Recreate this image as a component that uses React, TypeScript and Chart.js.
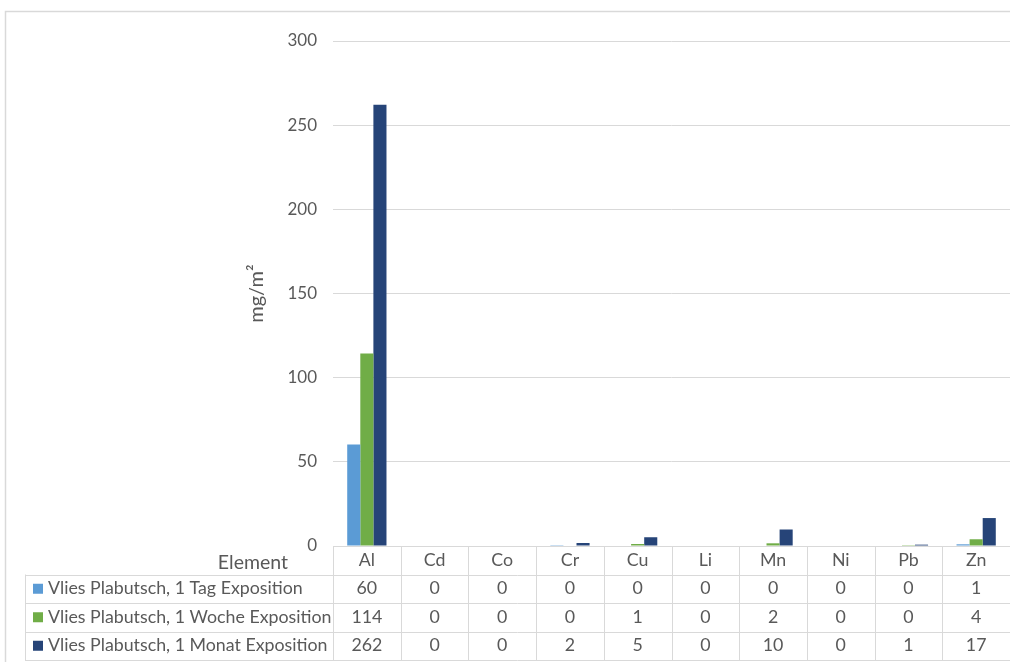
import React, { useEffect, useRef } from "react";
import { Chart, registerables } from "chart.js";

Chart.register(...registerables);

const categories = ["Al", "Cd", "Co", "Cr", "Cu", "Li", "Mn", "Ni", "Pb", "Zn"];
const seriesNames = [
  "Vlies Plabutsch, 1 Tag Exposition",
  "Vlies Plabutsch, 1 Woche Exposition",
  "Vlies Plabutsch, 1 Monat Exposition",
];
const tagValues = [60.3, 0, 0, 0.1, 0.3, 0, 0, 0, 0, 1.0];
const wocheValues = [114.3, 0, 0, 0.3, 1.2, 0, 1.6, 0, 0.1, 4.0];
const monatValues = [262.2, 0, 0, 1.8, 5.2, 0, 9.8, 0, 0.8, 16.6];
const seriesColors = ["#5B9BD5", "#70AD47", "#264478"];
const yTicks = [0, 50, 100, 150, 200, 250, 300];
const tableHeader = "Element";
const yTitle = "mg/m²";

const FONT = "Lato, 'Open Sans', sans-serif";
const TEXT = "#595959";
const LINE = "#d9d9d9";

export default function App() {
  const ref = useRef<HTMLCanvasElement | null>(null);

  useEffect(() => {
    const canvas = ref.current;
    if (!canvas) return;
    const allSeries = [tagValues, wocheValues, monatValues];

    const framePlugin = {
      id: "frame",
      beforeDraw(chart: any) {
        const ctx = chart.ctx;
        ctx.save();
        ctx.fillStyle = "#ffffff";
        ctx.fillRect(0, 0, chart.width, chart.height);
        ctx.strokeStyle = LINE;
        ctx.lineWidth = 1.5;
        ctx.beginPath();
        ctx.moveTo(5.5, chart.height);
        ctx.lineTo(5.5, 11.5);
        ctx.lineTo(chart.width, 11.5);
        ctx.stroke();
        ctx.restore();
      },
    };

    const tablePlugin = {
      id: "dataTable",
      afterDraw(chart: any) {
        const ctx = chart.ctx;
        const area = chart.chartArea;
        const xs = chart.scales.x;
        const n = categories.length;
        const colW = (area.right - area.left) / n;
        const top = area.bottom;
        const rowH = 28.5;
        const labelLeft = 25;
        ctx.save();
        ctx.strokeStyle = LINE;
        ctx.lineWidth = 1;
        ctx.beginPath();
        ctx.moveTo(area.left, top + 0.5);
        ctx.lineTo(area.right, top + 0.5);
        for (let r = 1; r <= 4; r++) {
          const y = Math.round(top + r * rowH) + 0.5;
          ctx.moveTo(labelLeft, y);
          ctx.lineTo(area.right, y);
        }
        for (let i = 0; i <= n; i++) {
          const x = Math.round(area.left + i * colW) + 0.5;
          ctx.moveTo(x, top);
          ctx.lineTo(x, top + 4 * rowH);
        }
        ctx.moveTo(labelLeft + 0.5, top + rowH);
        ctx.lineTo(labelLeft + 0.5, top + 4 * rowH);
        ctx.stroke();

        ctx.fillStyle = TEXT;
        ctx.textBaseline = "middle";
        ctx.font = `19.5px ${FONT}`;
        ctx.textAlign = "right";
        ctx.fillText(tableHeader, 288, top + rowH / 2 + 2);

        ctx.font = `17.8px ${FONT}`;
        ctx.textAlign = "center";
        categories.forEach((c, i) => {
          const cx = xs.getPixelForValue(i);
          ctx.fillText(c, cx, top + rowH / 2);
          allSeries.forEach((vals, s) => {
            ctx.fillText(String(Math.round(vals[i])), cx, top + rowH * (s + 1.5));
          });
        });

        seriesNames.forEach((name, s) => {
          const cy = top + rowH * (s + 1.5);
          ctx.fillStyle = seriesColors[s];
          ctx.fillRect(33, cy - 5, 10, 10);
          ctx.fillStyle = TEXT;
          ctx.textAlign = "left";
          ctx.fillText(name, 48, cy);
        });
        ctx.restore();
      },
    };

    const chart = new Chart(canvas, {
      type: "bar",
      data: {
        labels: categories,
        datasets: allSeries.map((vals, s) => ({
          label: seriesNames[s],
          data: vals,
          backgroundColor: seriesColors[s],
          borderWidth: 0,
          categoryPercentage: 0.58,
          barPercentage: 1.0,
        })),
      },
      options: {
        responsive: false,
        animation: false,
        layout: { padding: { left: 0, right: 0, top: 41, bottom: 116 } },
        plugins: {
          legend: { display: false },
          tooltip: { enabled: false },
          title: { display: false },
        },
        scales: {
          x: { display: false },
          y: {
            min: 0,
            max: 300,
            afterBuildTicks: (scale: any) => {
              scale.ticks = yTicks.map((v) => ({ value: v }));
            },
            afterFit: (scale: any) => {
              scale.width = 333;
            },
            border: { display: false },
            grid: { color: LINE, lineWidth: 1, drawTicks: false },
            ticks: {
              color: TEXT,
              font: { family: FONT, size: 17 },
              padding: 16,
            },
            title: {
              display: true,
              text: yTitle,
              color: TEXT,
              font: { family: FONT, size: 20 },
              padding: { top: 245, bottom: 0 },
            },
          },
        },
      },
      plugins: [framePlugin, tablePlugin],
    });
    return () => chart.destroy();
  }, []);

  return (
    <div style={{ position: "absolute", left: 0, top: 0, width: 1010, height: 662, overflow: "hidden" }}>
      <canvas ref={ref} width={1010} height={662} style={{ display: "block" }} />
    </div>
  );
}
